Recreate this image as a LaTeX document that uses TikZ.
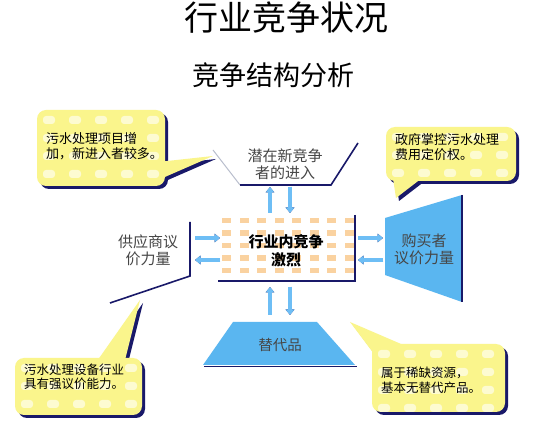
\documentclass[tikz,border=0pt]{standalone}
\usepackage{fontspec}
\setmainfont{Noto Sans CJK SC}
\usetikzlibrary{arrows.meta}
\definecolor{navy}{RGB}{25,25,105}
\definecolor{skyfill}{RGB}{90,182,240}
\definecolor{flowblue}{RGB}{110,190,245}
\definecolor{notefill}{RGB}{250,245,140}
\definecolor{checker}{RGB}{250,210,160}
\definecolor{labelgray}{RGB}{70,70,70}
\definecolor{edgegray}{RGB}{185,190,205}
\tikzset{
    every node/.style={inner sep=0pt, outer sep=0pt}
}
\tikzset{
    title/.style={font=\fontsize{34}{40}\selectfont},
    subtitle/.style={font=\fontsize{27}{32}\selectfont},
    notetext/.style={align=left, anchor=west, font=\fontsize{13}{15.5}\selectfont},
    shapetext/.style={align=center, text=labelgray, font=\fontsize{15}{17}\selectfont},
    flow/.style={line width=3.5pt, flowblue, -{Triangle[width=8.5pt,length=5.5pt]}},
    flowshadow/.style={flow, navy, shift={(1.8,1.8)}},
    rim/.style={navy, line width=1.6pt}
}
% callout: corners x1,y1,x2,y2 and tail path
\newcommand{\bubble}[5]{%
    \fill[navy, rounded corners=9pt, shift={(3,3)}] (#1,#2) rectangle (#3,#4);
    \fill[navy, shift={(3,3)}] #5;
    \fill[notefill, rounded corners=9pt] (#1,#2) rectangle (#3,#4);
    \fill[notefill] #5;
    \begin{scope}
        \clip[rounded corners=9pt] (#1,#2) rectangle (#3,#4);
        \foreach \i in {0,...,6} \foreach \j in {0,...,4}
            \fill[white, opacity=.6, rounded corners=3pt] (#1+6+26*\i, #2+6+18*\j) rectangle ++(12,8);
    \end{scope}}

\begin{document}
\begin{tikzpicture}[x=1pt, y=-1pt]
    \useasboundingbox[fill=white] (0,0) rectangle (536,430);

    \node (title) [title] at (286,18) {行业竞争状况};
    \node (subtitle) [subtitle] at (273,75) {竞争结构分析};

    \bubble{37}{110}{165}{186}{(158,162) -- (213,156) -- (158,180) -- cycle}
    \bubble{386}{127}{516}{181}{(392,172) -- (422,178) -- (396,198) -- cycle}
    \bubble{15}{358}{142}{415}{(95,364) -- (140,300) -- (124,364) -- cycle}
    \bubble{372}{344}{505}{412}{(380,362) -- (350,322) -- (415,350) -- cycle}

    \node (note1) [notetext] at (46,146) {污水处理项目增\\加，新进入者较多。};
    \node (note2) [notetext] at (395,147) {政府掌控污水处理\\费用定价权。};
    \node (note3) [notetext, font=\fontsize{12.5}{14.5}\selectfont] at (24,377) {污水处理设备行业\\具有强议价能力。};
    \node (note4) [notetext, font=\fontsize{12.5}{15}\selectfont] at (381,380) {属于稀缺资源，\\基本无替代产品。};

    \foreach \i in {0,...,7} \foreach \j in {0,...,4}
        \fill[checker] (222+17.5*\i, 218+12.5*\j) rectangle ++(9,5.5);
    \draw[rim] (355,215) -- (355,281) -- (218,281);
    \node (rival) [shapetext, text=black, font=\bfseries\fontsize{15}{18}\selectfont] at (286,251) {行业内竞争\\激烈};

    \draw[edgegray, line width=1pt] (213,150) -- (240,185);
    \draw[rim] (240,185) -- (331,185) -- (358,143);
    \node (entrant) [shapetext] at (285,164) {潜在新竞争\\者的进入};

    \draw[rim] (190,222) -- (190,276) -- (110,303);
    \node (supplier) [shapetext] at (148,250) {供应商议\\价力量};

    \fill[skyfill] (385,218) -- (462,195) -- (462,302) -- (385,275) -- cycle;
    \draw[rim] (462,195) -- (462,302);
    \node (buyer) [shapetext] at (424,249) {购买者\\议价力量};

    \fill[skyfill] (233,322) -- (317,322) -- (355,365) -- (203,365) -- cycle;
    \draw[rim] (204,366.5) -- (357,366.5);
    \node (substitute) [shapetext, font=\fontsize{14.5}{17}\selectfont] at (280,345) {替代品};

    \coordinate (tupS) at (270,213); \coordinate (tupE) at (270,187);
    \coordinate (tdnS) at (290,187); \coordinate (tdnE) at (290,213);
    \coordinate (bupS) at (270,315); \coordinate (bupE) at (270,287);
    \coordinate (bdnS) at (290,287); \coordinate (bdnE) at (290,315);
    \coordinate (linS) at (195,238); \coordinate (linE) at (220,238);
    \coordinate (loutS) at (220,260); \coordinate (loutE) at (195,260);
    \coordinate (routS) at (358,238); \coordinate (routE) at (383,238);
    \coordinate (rinS) at (383,260); \coordinate (rinE) at (358,260);

    \foreach \a/\b in {tupS/tupE, tdnS/tdnE, bupS/bupE, bdnS/bdnE,
                       linS/linE, loutS/loutE, routS/routE, rinS/rinE} {
        \draw[flowshadow] (\a) -- (\b);
        \draw[flow] (\a) -- (\b);
    }
\end{tikzpicture}
\end{document}
